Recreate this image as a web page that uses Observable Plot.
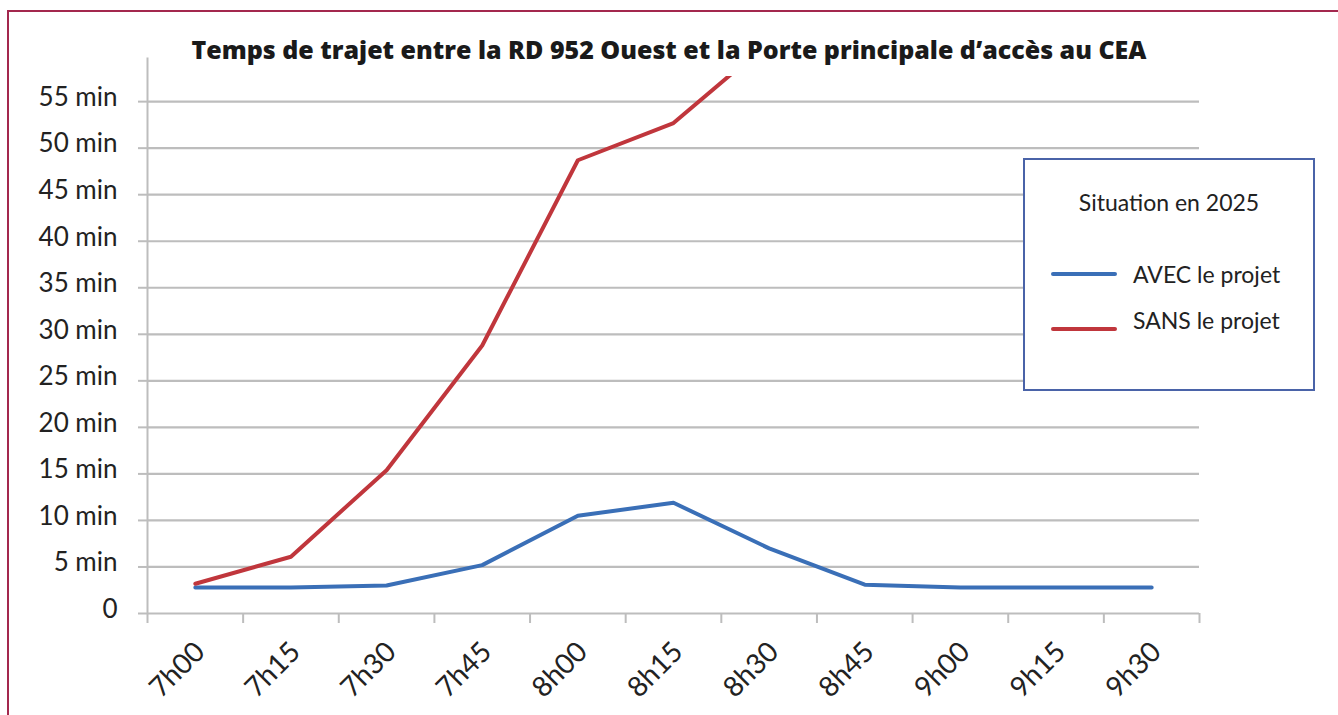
<!DOCTYPE html>
<html>
<head>
<meta charset="utf-8">
<script src="https://cdn.jsdelivr.net/npm/d3@7"></script>
<script src="https://cdn.jsdelivr.net/npm/@observablehq/plot@0.6"></script>
<style>
  html, body { margin: 0; padding: 0; background: #fff; }
  #wrap { position: relative; width: 1338px; height: 715px; overflow: hidden; background: #fff; font-family: Lato, "Open Sans", sans-serif; }
  #frame { position: absolute; left: 7px; top: 10px; right: -10px; bottom: -10px; border-left: 2px solid #a3284e; border-top: 2px solid #a3284e; }
  #title { position: absolute; left: 0; width: 1338px; top: 32px; text-align: center; font-family: "Open Sans", sans-serif; font-weight: 800; font-size: 25px; color: #1a1a1a; letter-spacing: 0px; }
  #chart { position: absolute; left: 0; top: 0; }
  #legend { position: absolute; left: 1023px; top: 158px; width: 288px; height: 229px; border: 2px solid #4a63a8; background: #fff; font-family: Lato, sans-serif; color: #222; }
  #legend .lt { position: absolute; top: 28px; width: 100%; text-align: center; font-size: 23px; }
  #legend .item { position: absolute; left: 26px; font-size: 23px; display: flex; align-items: center; }
  #legend .sw { width: 66px; height: 4px; border-radius: 2px; margin-right: 16px; }
</style>
</head>
<body>
<div id="wrap">
  <div id="frame"></div>
  <div id="chart"></div>
  <div id="title">Temps de trajet entre la RD 952 Ouest et la Porte principale d’accès au CEA</div>
  <div id="legend"></div>
</div>
<script>
// Data
const times = ["7h00","7h15","7h30","7h45","8h00","8h15","8h30","8h45","9h00","9h15","9h30"];
const avec = [2.8, 2.8, 3.0, 5.2, 10.5, 11.9, 7.0, 3.1, 2.8, 2.8, 2.8];
const sans = [3.2, 6.1, 15.4, 28.8, 48.7, 52.7, 61.4];
const yTicks = [0, 5, 10, 15, 20, 25, 30, 35, 40, 45, 50, 55];
const seriesNames = ["AVEC le projet", "SANS le projet"];
const seriesColors = ["#3a6fb7", "#c0363c"];
const legendTitle = "Situation en 2025";

const rows = [
  ...avec.map((v, i) => ({i, v, s: seriesNames[0]})),
  ...sans.map((v, i) => ({i, v, s: seriesNames[1]}))
];

const font = "Lato, 'Open Sans', sans-serif";

const chart = Plot.plot({
  width: 1338,
  height: 715,
  marginLeft: 147,
  marginRight: 139,
  marginTop: 76,
  marginBottom: 102,
  style: {fontFamily: font, fontSize: "26px", color: "#222", background: "transparent", overflow: "visible"},
  x: {type: "linear", domain: [0, times.length], axis: null},
  y: {domain: [0, 57.7], axis: null},
  color: {domain: seriesNames, range: seriesColors},
  marks: [
    Plot.ruleY(yTicks, {stroke: "#bdbdbd", strokeWidth: 2.2}),
    Plot.axisY(yTicks, {label: null, tickSize: 9, stroke: "#bdbdbd", strokeWidth: 2, tickFormat: () => ""}),
    Plot.axisY(yTicks, {label: null, tickSize: 0, tickPadding: 30, dy: -4,
      tickFormat: d => d === 0 ? "0" : d + " min", fontSize: 26, fill: "#222"}),
    Plot.ruleX([0], {y1: 0, y2: 59.7, stroke: "#bdbdbd", strokeWidth: 2}),
    Plot.axisX(d3.range(times.length + 1), {label: null, tickSize: 10, tickFormat: () => "", stroke: "#bdbdbd", strokeWidth: 2}),
    Plot.axisX(times.map((t, i) => i + 0.5), {label: null, tickSize: 0, tickPadding: 26, rotate: -45, textAnchor: "end",
      dx: -3, tickFormat: d => times[Math.round(d - 0.5)], fontSize: 28, fill: "#222"}),
    Plot.line(rows, {x: d => d.i + 0.5, y: "v", z: "s", stroke: "s", strokeWidth: 4, clip: true, strokeLinejoin: "round"})
  ]
});
document.getElementById("chart").appendChild(chart);

// Legend
const lg = document.getElementById("legend");
const t = document.createElement("div");
t.className = "lt"; t.textContent = legendTitle; lg.appendChild(t);
seriesNames.forEach((n, k) => {
  const it = document.createElement("div");
  it.className = "item";
  it.style.top = (100 + k * 46) + "px";
  const sw = document.createElement("div");
  sw.className = "sw"; sw.style.background = seriesColors[k];
  if (k === 1) sw.style.marginTop = "18px";
  const tx = document.createElement("span"); tx.textContent = n;
  it.appendChild(sw); it.appendChild(tx);
  lg.appendChild(it);
});
</script>
</body>
</html>
